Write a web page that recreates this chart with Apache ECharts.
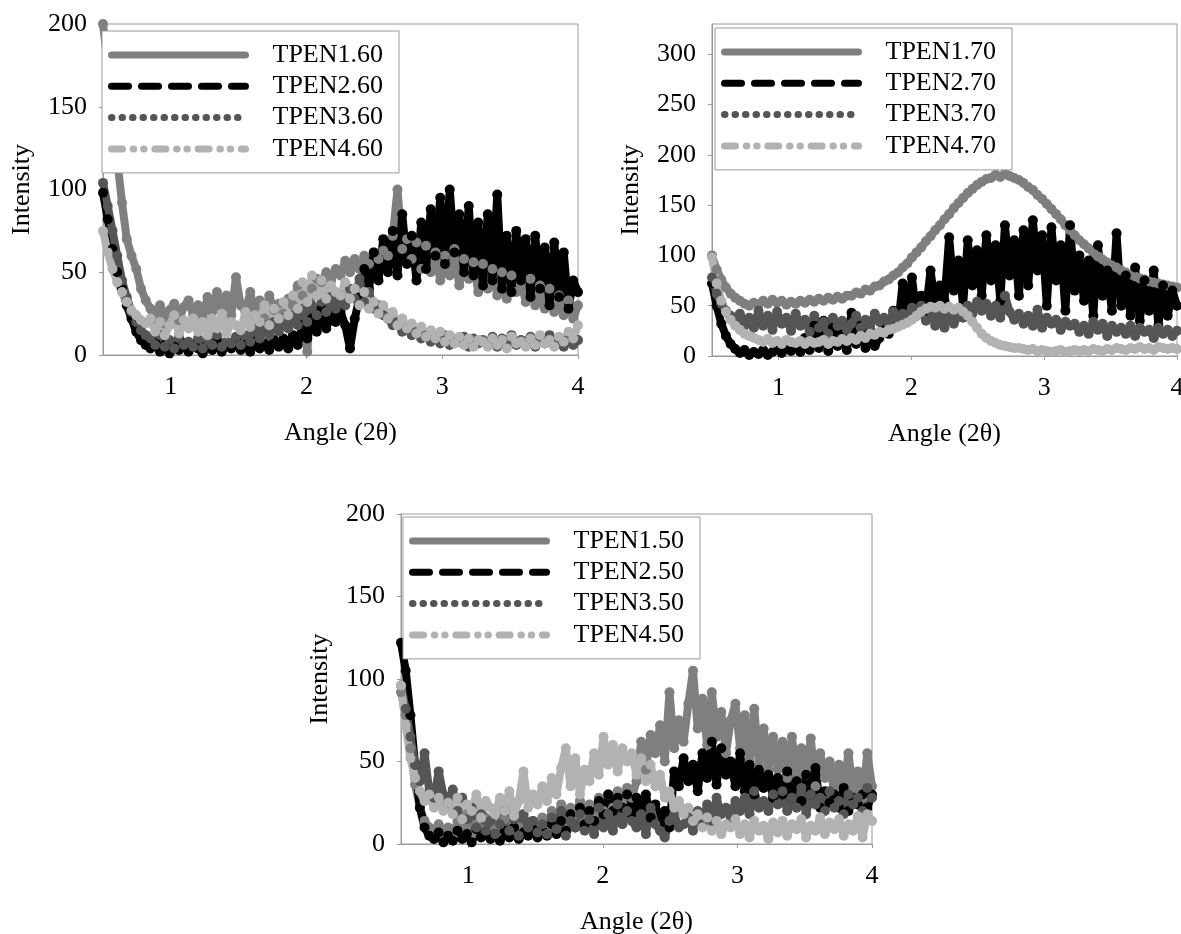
<!DOCTYPE html>
<html>
<head>
<meta charset="utf-8">
<title>TPEN XRD</title>
<script src="https://cdn.jsdelivr.net/npm/echarts@6.0.0/dist/echarts.min.js"></script>
<style>
  html, body { margin: 0; padding: 0; background: #fff; }
  #chart { width: 1181px; height: 934px; }
</style>
</head>
<body>
<div id="chart"></div>
<script>
// 2θ sampling shared by all three panels
var angles = [
  0.5, 0.535, 0.57, 0.605, 0.64, 0.675, 0.71, 0.745, 0.78, 0.815,
  0.85, 0.885, 0.92, 0.955, 0.99, 1.025, 1.06, 1.095, 1.13, 1.165,
  1.2, 1.235, 1.27, 1.305, 1.34, 1.375, 1.41, 1.445, 1.48, 1.515,
  1.55, 1.585, 1.62, 1.655, 1.69, 1.725, 1.76, 1.795, 1.83, 1.865,
  1.9, 1.935, 1.97, 2.005, 2.04, 2.075, 2.11, 2.145, 2.18, 2.215,
  2.25, 2.285, 2.32, 2.355, 2.39, 2.425, 2.46, 2.495, 2.53, 2.565,
  2.6, 2.635, 2.67, 2.705, 2.74, 2.775, 2.81, 2.845, 2.88, 2.915,
  2.95, 2.985, 3.02, 3.055, 3.09, 3.125, 3.16, 3.195, 3.23, 3.265,
  3.3, 3.335, 3.37, 3.405, 3.44, 3.475, 3.51, 3.545, 3.58, 3.615,
  3.65, 3.685, 3.72, 3.755, 3.79, 3.825, 3.86, 3.895, 3.93, 3.965,
  4.0
];
var xTicks = [1, 2, 3, 4];
var yTicks200 = [0, 50, 100, 150, 200];
var yTicks300 = [0, 50, 100, 150, 200, 250, 300];

var names60 = ["TPEN1.60", "TPEN2.60", "TPEN3.60", "TPEN4.60"];
var names70 = ["TPEN1.70", "TPEN2.70", "TPEN3.70", "TPEN4.70"];
var names50 = ["TPEN1.50", "TPEN2.50", "TPEN3.50", "TPEN4.50"];

// ---- .60 panel ----
var tpen1_60 = [
  200, 175, 150, 118, 92, 70, 60, 52, 40, 33,
  28, 22, 30, 19, 27, 31, 21, 29, 33, 24,
  30, 22, 35, 26, 38, 28, 36, 24, 47, 30,
  26, 38, 24, 33, 22, 36, 27, 31, 25, 34,
  30, 42, 36, 2, 40, 46, 44, 50, 45, 52,
  48, 57, 50, 58, 52, 60, 55, 62, 58, 63,
  60, 72, 100, 64, 70, 58, 68, 52, 66, 50,
  62, 45, 60, 48, 64, 42, 58, 46, 56, 38,
  55, 40, 52, 36, 50, 34, 48, 38, 44, 32,
  46, 30, 42, 28, 40, 26, 36, 24, 33, 22,
  30
];
var tpen2_60 = [
  98, 82, 64, 50, 40, 30, 22, 14, 9, 6,
  4, 8, 2, 6, 1, 5, 3, 7, 2, 6,
  4, 1, 7, 3, 8, 2, 6, 4, 9, 3,
  6, 2, 8, 4, 7, 3, 9, 5, 10, 4,
  12, 6, 18, 10, 22, 14, 28, 16, 24, 20,
  26, 18, 4, 22, 35, 52, 40, 62, 45, 70,
  50, 75, 48, 85, 55, 72, 45, 80, 52, 88,
  60, 95, 55, 100, 62, 85, 50, 90, 48, 80,
  42, 85, 45, 97, 40, 72, 38, 75, 45, 70,
  35, 72, 40, 65, 30, 68, 35, 62, 28, 45,
  38
];
var tpen3_60 = [
  104, 90, 75, 60, 45, 35, 26, 20, 15, 12,
  10, 6, 12, 5, 9, 4, 11, 6, 8, 5,
  10, 4, 9, 6, 12, 5, 8, 7, 11, 6,
  12, 8, 16, 10, 18, 12, 20, 14, 22, 16,
  24, 18, 28, 20, 30, 24, 32, 26, 35, 28,
  36, 30, 40, 34, 46, 32, 38, 28, 30, 24,
  22, 18, 20, 14, 16, 12, 14, 10, 12, 8,
  10, 7, 12, 6, 9, 8, 11, 5, 10, 7,
  9, 6, 11, 5, 10, 7, 12, 6, 9, 8,
  11, 5, 10, 7, 12, 6, 9, 5, 10, 6,
  9
];
var tpen4_60 = [
  75, 62, 52, 44, 38, 32, 27, 24, 21, 19,
  22, 14, 20, 12, 18, 24, 13, 21, 16, 22,
  14, 20, 12, 22, 16, 25, 13, 20, 18, 15,
  26, 17, 24, 20, 30, 18, 28, 22, 32, 24,
  36, 28, 44, 32, 48, 36, 45, 34, 42, 38,
  36, 44, 34, 40, 30, 38, 28, 32, 25, 30,
  22, 26, 18, 22, 16, 19, 13, 17, 11, 15,
  10, 14, 8, 12, 7, 11, 6, 10, 5, 9,
  8, 5, 10, 6, 9, 4, 11, 7, 8, 5,
  10, 6, 12, 7, 9, 5, 11, 8, 14, 10,
  18
];

// ---- .70 panel ----
var tpen1_70 = [
  100, 86, 76, 68, 62, 58, 55, 52, 50, 53,
  51, 55, 52, 56, 53, 55, 51, 54, 52, 55,
  53, 56, 54, 57, 55, 58, 56, 59, 57, 60,
  60, 63, 62, 66, 65, 69, 70, 74, 76, 80,
  83, 88, 92, 98, 103, 108, 114, 119, 125, 130,
  136, 141, 147, 152, 157, 162, 166, 170, 173, 176,
  177, 180, 178, 181, 179, 177, 175, 172, 168, 165,
  160, 156, 151, 146, 141, 136, 130, 125, 120, 115,
  111, 107, 103, 99, 96, 93, 90, 88, 85, 83,
  81, 79, 77, 76, 74, 73, 72, 71, 70, 69,
  68
];
var tpen2_70 = [
  72, 50, 32, 20, 12, 7, 3, 6, 1, 4,
  2, 6, 1, 4, 8, 3, 10, 5, 12, 4,
  18, 6, 30, 8, 35, 5, 28, 10, 22, 6,
  43, 12, 30, 8, 25, 10, 18, 35, 22, 45,
  30, 72, 35, 78, 40, 60, 45, 85, 50, 70,
  55, 118, 65, 95, 50, 115, 70, 105, 60, 120,
  75, 110, 55, 130, 80, 115, 60, 125, 70, 135,
  85, 120, 50, 128, 75, 110, 45, 130, 65, 100,
  55, 95, 40, 110, 60, 85, 45, 122, 50, 80,
  40, 88, 35, 75, 45, 85, 30, 70, 40, 65,
  50
];
var tpen3_70 = [
  78, 62, 52, 45, 40, 36, 42, 30, 38, 28,
  45, 30, 40, 26, 44, 32, 38, 25, 42, 30,
  36, 24, 40, 28, 34, 22, 38, 30, 35, 26,
  32, 40, 28, 36, 30, 42, 34, 38, 32, 44,
  36, 42, 38, 48, 40, 50, 35, 45, 30, 42,
  28, 46, 32, 40, 38, 50, 42, 54, 45, 52,
  40, 50, 38, 60, 44, 36, 42, 32, 40, 30,
  46, 28, 38, 32, 36, 26, 34, 30, 32, 24,
  30, 22, 34, 26, 32, 20, 30, 24, 28, 22,
  30, 20, 28, 24, 26, 18, 28, 22, 26, 20,
  25
];
var tpen4_70 = [
  98, 72, 55, 44, 36, 30, 26, 22, 20, 18,
  16, 14, 17, 13, 15, 12, 16, 14, 13, 15,
  12, 15, 13, 14, 16, 12, 15, 14, 17, 15,
  18, 16, 20, 18, 22, 21, 24, 23, 26, 27,
  29, 31, 33, 36, 40, 44, 47, 49, 48, 50,
  47, 49, 46, 48, 44, 40, 34, 28, 22, 18,
  15, 13, 11, 10, 9, 8, 8, 7, 6, 7,
  5, 6, 5, 4, 5, 6, 4, 5, 6, 5,
  6, 5, 7, 6, 5, 7, 6, 8, 7, 6,
  8, 7, 9, 7, 8, 6, 9, 8, 7, 8,
  7
];

// ---- .50 panel ----
var tpen1_50 = [
  92, 78, 58, 36, 22, 14, 10, 8, 12, 6,
  10, 4, 14, 8, 18, 6, 12, 9, 16, 7,
  12, 8, 15, 6, 13, 10, 18, 7, 14, 9,
  16, 10, 20, 12, 24, 14, 22, 18, 26, 15,
  24, 18, 28, 20, 30, 22, 32, 26, 34, 28,
  38, 62, 45, 66, 55, 72, 50, 92, 58, 75,
  62, 85, 105, 70, 88, 60, 92, 65, 80, 55,
  75, 85, 58, 78, 50, 82, 48, 70, 45, 65,
  45, 62, 40, 65, 38, 58, 42, 64, 35, 55,
  40, 50, 30, 48, 35, 55, 32, 44, 28, 55,
  35
];
var tpen2_50 = [
  122, 105, 78, 48, 22, 10, 5, 3, 7, 1,
  5, 2, 8, 3, 6, 1, 9, 4, 7, 3,
  6, 2, 8, 4, 10, 3, 7, 5, 9, 4,
  8, 5, 12, 6, 14, 8, 18, 10, 22, 12,
  20, 14, 26, 18, 30, 20, 28, 22, 30, 18,
  28, 20, 30, 16, 24, 12, 20, 10, 44, 35,
  52, 38, 48, 32, 55, 40, 62, 36, 58, 42,
  50, 35, 55, 32, 48, 30, 45, 34, 42, 28,
  40, 30, 44, 28, 38, 26, 42, 30, 46, 22,
  32, 25, 30, 22, 34, 20, 28, 24, 30, 22,
  30
];
var tpen3_50 = [
  96, 82, 65, 48, 38, 55, 32, 28, 44, 30,
  25, 33, 20, 28, 15, 22, 10, 18, 8, 14,
  6, 12, 20, 8, 15, 5, 18, 10, 14, 7,
  12, 6, 16, 9, 20, 5, 14, 10, 18, 8,
  15, 6, 22, 10, 18, 8, 24, 12, 20, 14,
  10, 18, 6, 22, 12, 8, 4, 14, 18, 10,
  12, 16, 8, 20, 12, 24, 14, 28, 18, 22,
  16, 26, 20, 28, 18, 32, 22, 26, 20, 30,
  24, 32, 20, 28, 22, 34, 18, 30, 24, 28,
  20, 32, 22, 26, 18, 30, 24, 28, 20, 34,
  28
];
var tpen4_50 = [
  96, 72, 52, 40, 32, 26, 30, 22, 28, 20,
  25, 18, 28, 15, 24, 20, 30, 16, 26, 22,
  18, 28, 20, 32, 17, 26, 44, 22, 30, 24,
  35, 26, 40, 30, 46, 58, 35, 52, 30, 45,
  38, 55, 42, 65, 48, 60, 44, 58, 50, 55,
  42, 52, 38, 48, 35, 42, 28, 32, 22, 26,
  18, 22, 14, 18, 10, 16, 8, 14, 6, 12,
  10, 15, 6, 12, 4, 14, 8, 11, 3, 13,
  7, 14, 5, 12, 9, 15, 4, 11, 8, 16,
  6, 13, 9, 15, 5, 12, 8, 17, 4, 18,
  14
];

var colors = ["#7f7f7f", "#000000", "#555555", "#b2b2b2"];
// solid, dash, round dot, dash-dot-dot (legend samples only)
var legendDash = ["solid", [17, 13], [0.5, 10], [11, 10.8, 0.5, 9.8, 0.5, 10.7]];
var font = "Liberation Serif";
var axisGray = "#9a9a9a";

var option = {
  backgroundColor: "#fff",
  animation: false,
  grid: [],
  xAxis: [],
  yAxis: [],
  legend: [],
  series: []
};

function addPanel(idx, box, legendPos, yMax, yTicks, names, values) {
  option.grid.push({
    left: box[0], top: box[1], width: box[2], height: box[3],
    show: true, borderColor: axisGray, borderWidth: 1,
    outerBoundsMode: "none"
  });
  option.xAxis.push({
    gridIndex: idx, type: "value", min: 0.5, max: 4,
    name: "Angle (2θ)", nameLocation: "middle", nameGap: 65,
    nameTextStyle: { fontFamily: font, fontSize: 26, color: "#000" },
    axisLine: { onZero: false, lineStyle: { color: axisGray } },
    axisTick: { length: 4, customValues: xTicks, lineStyle: { color: axisGray } },
    axisLabel: { customValues: xTicks, margin: 19, fontFamily: font, fontSize: 26, color: "#000" },
    splitLine: { show: false }
  });
  option.yAxis.push({
    gridIndex: idx, type: "value", min: 0, max: yMax,
    name: "Intensity", nameLocation: "middle", nameGap: 68,
    nameTextStyle: { fontFamily: font, fontSize: 26, color: "#000" },
    axisLine: { show: true, lineStyle: { color: axisGray } },
    axisTick: { show: true, length: 4, customValues: yTicks, lineStyle: { color: axisGray } },
    axisLabel: { customValues: yTicks, margin: 16, fontFamily: font, fontSize: 26, color: "#000" },
    splitLine: { show: false }
  });
  option.legend.push({
    orient: "vertical", left: legendPos[0], top: legendPos[1],
    backgroundColor: "#fff", borderColor: axisGray, borderWidth: 1,
    padding: [11, 16, 11, 6],
    itemWidth: 134, itemHeight: 14, itemGap: 5.3,
    selectedMode: false,
    itemStyle: { opacity: 0 },
    textStyle: { fontFamily: font, fontSize: 26, lineHeight: 26, color: "#000", padding: [0, 0, 0, 22] },
    data: names.map(function (n, i) {
      return { name: n, lineStyle: { type: legendDash[i], width: 7, cap: "round", color: colors[i], opacity: 1 } };
    })
  });
  names.forEach(function (n, i) {
    option.series.push({
      name: n, type: "line", xAxisIndex: idx, yAxisIndex: idx,
      data: angles.map(function (a, k) { return [a, values[i][k]]; }),
      symbol: "circle", symbolSize: 10, showAllSymbol: true,
      itemStyle: { color: colors[i] },
      lineStyle: { color: colors[i], width: 8, cap: "round", join: "round" },
      silent: true
    });
  });
}

addPanel(0, [103, 24, 475, 331], [102, 31], 200, yTicks200, names60,
  [tpen1_60, tpen2_60, tpen3_60, tpen4_60]);
addPanel(1, [712, 24, 465, 332], [715, 28], 330, yTicks300, names70,
  [tpen1_70, tpen2_70, tpen3_70, tpen4_70]);
addPanel(2, [401, 514, 471, 330], [403, 517], 200, yTicks200, names50,
  [tpen1_50, tpen2_50, tpen3_50, tpen4_50]);

var chart = echarts.init(document.getElementById("chart"), null, { renderer: "canvas" });
chart.setOption(option);
</script>
</body>
</html>
